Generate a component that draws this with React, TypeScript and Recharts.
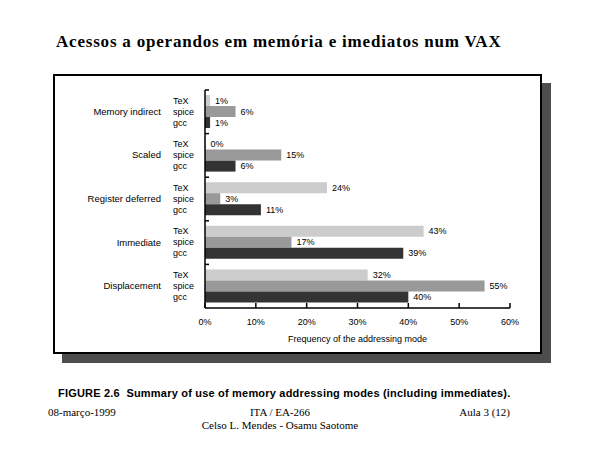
import React from 'react';
import { BarChart, Bar, XAxis, YAxis, LabelList } from 'recharts';

const modes = ['Memory indirect', 'Scaled', 'Register deferred', 'Immediate', 'Displacement'];
const seriesNames = ['TeX', 'spice', 'gcc'];
const texValues = [1, 0, 24, 43, 32];
const spiceValues = [6, 15, 3, 17, 55];
const gccValues = [1, 6, 11, 39, 40];
const xTicks = [0, 10, 20, 30, 40, 50, 60];

const colors = ['#cccccc', '#999999', '#333333'];

const data = modes.map((mode, i) => ({
  mode,
  TeX: texValues[i],
  spice: spiceValues[i],
  gcc: gccValues[i],
}));

const sans = '"Liberation Sans", Arial, sans-serif';
const serif = '"Liberation Serif", "Times New Roman", serif';
const labelGap = 44;

// series name drawn just left of the value axis, next to each bar
const seriesLabel = (name: string) => (props: any) => {
  const { x, y, height } = props;
  return (
    <text x={x - 32} y={y + height / 2} dy={3} fontSize={9} fill="#000" fontFamily={sans}>
      {name}
    </text>
  );
};

const XTick = (props: any) => {
  const { x, y, payload } = props;
  return (
    <g>
      <line x1={x} x2={x} y1={y - 5} y2={y} stroke="#000" strokeWidth={1.5} />
      <text x={x} y={y + 17} textAnchor="middle" fontSize={9} fill="#000" fontFamily={sans}>
        {payload.value}%
      </text>
    </g>
  );
};

// category label plus a short inward tick at the top edge of each band
const ModeTick = (props: any) => {
  const { x, y, payload } = props;
  const half = payload.offset || 0;
  const axisX = x + labelGap;
  return (
    <g>
      <line x1={axisX} x2={axisX + 4} y1={y - half} y2={y - half} stroke="#000" strokeWidth={1.5} />
      <text x={x} y={y} dy={3} textAnchor="end" fontSize={9.5} fill="#000" fontFamily={sans}>
        {payload.value}
      </text>
    </g>
  );
};

export default function App() {
  return (
    <div style={{ position: 'absolute', left: 0, top: 0, width: 600, height: 450, background: '#fff' }}>
      <div
        style={{
          position: 'absolute',
          left: 56,
          top: 32,
          whiteSpace: 'nowrap',
          fontFamily: serif,
          fontWeight: 'bold',
          fontSize: 17,
          letterSpacing: 0.8,
          color: '#000',
        }}
      >
        Acessos a operandos em memória e imediatos num VAX
      </div>

      <div
        style={{
          position: 'absolute',
          left: 53,
          top: 74,
          width: 485,
          height: 276,
          border: '2px solid #000',
          background: '#fff',
          boxShadow: '9px 9px 0 #4d4d4d',
        }}
      />

      <div style={{ position: 'absolute', left: 0, top: 0 }}>
        <BarChart
          width={600}
          height={360}
          data={data}
          layout="vertical"
          barCategoryGap={5}
          barGap={0}
          margin={{ top: 90, right: 90, bottom: 16, left: 0 }}
        >
          <YAxis
            type="category"
            dataKey="mode"
            width={205}
            axisLine={{ stroke: '#000', strokeWidth: 1.5 }}
            tickLine={false}
            tickSize={0}
            tickMargin={labelGap}
            tick={<ModeTick />}
          />
          <XAxis
            type="number"
            domain={[0, 60]}
            ticks={xTicks}
            height={36}
            axisLine={{ stroke: '#000', strokeWidth: 1.5 }}
            tickLine={false}
            tickSize={0}
            tickMargin={0}
            tick={<XTick />}
            label={{
              value: 'Frequency of the addressing mode',
              position: 'insideBottom',
              offset: 2,
              fill: '#000',
              fontSize: 9,
              fontFamily: sans,
            }}
          />
          {seriesNames.map((name, i) => (
            <Bar
              key={name}
              dataKey={name}
              fill={colors[i]}
              minPointSize={0.5}
              isAnimationActive={false}
            >
              <LabelList
                dataKey={name}
                position="right"
                offset={5}
                formatter={(v: any) => `${v}%`}
                style={{ fill: '#000', fontSize: 9, fontFamily: sans }}
              />
              <LabelList dataKey={name} content={seriesLabel(name)} />
            </Bar>
          ))}
        </BarChart>
      </div>

      <div
        style={{
          position: 'absolute',
          left: 58,
          top: 387,
          fontFamily: sans,
          fontWeight: 'bold',
          fontSize: 11,
          letterSpacing: 0.2,
          color: '#000',
          whiteSpace: 'pre',
        }}
      >
        {'FIGURE 2.6  Summary of use of memory addressing modes (including immediates).'}
      </div>

      <div style={{ position: 'absolute', left: 48, top: 406, fontFamily: serif, fontSize: 11, color: '#000' }}>
        08-março-1999
      </div>
      <div
        style={{
          position: 'absolute',
          left: 180,
          top: 406,
          width: 200,
          textAlign: 'center',
          fontFamily: serif,
          fontSize: 11,
          color: '#000',
          lineHeight: '13px',
        }}
      >
        ITA / EA-266
        <br />
        Celso L. Mendes - Osamu Saotome
      </div>
      <div
        style={{
          position: 'absolute',
          right: 90,
          top: 406,
          fontFamily: serif,
          fontSize: 11,
          color: '#000',
        }}
      >
        Aula 3 (12)
      </div>
    </div>
  );
}
